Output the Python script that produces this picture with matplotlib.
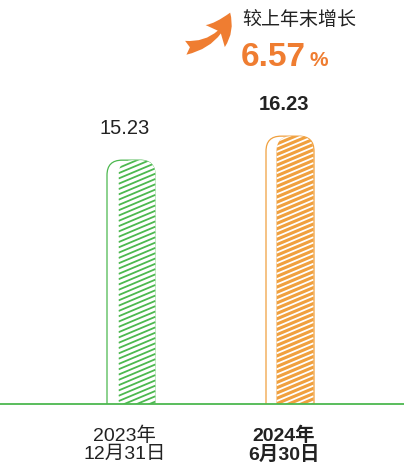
import numpy as np
import matplotlib.pyplot as plt
from matplotlib.patches import FancyBboxPatch, FancyArrowPatch

plt.rcParams['font.family'] = ['Liberation Sans', 'Noto Sans CJK SC', 'DejaVu Sans']

# data
dates = ["2023年\n12月31日", "2024年\n6月30日"]
values = [15.23, 16.23]
growth_pct = "6.57"
growth_label = "较上年末增长"

green = '#4cb84f'
orange_bar = '#f0a03e'
orange_txt = '#ef7d31'

W, H, DPI = 404, 466, 100
fig = plt.figure(figsize=(W / DPI, H / DPI), dpi=DPI)

base_px = 404  # baseline from top, pixels
ax = fig.add_axes([0, (H - base_px) / H, 1, base_px / H])

# scales: x units -> pixels, y units -> pixels
x0_px, x_unit_px = 125, 159
y_unit_px = 24
ymin = 5.07
ax.set_xlim(-x0_px / x_unit_px, (W - x0_px) / x_unit_px)
ax.set_ylim(ymin, ymin + base_px / y_unit_px)

radius_px = 15
rx = radius_px / x_unit_px
aspect = x_unit_px / y_unit_px


def rounded_bar(xc, width, top, **kw):
    # extend below the baseline so the lower corners are clipped away
    bottom = ymin - 2
    p = FancyBboxPatch((xc - width / 2, bottom), width, top - bottom,
                       boxstyle=f"round,pad=0,rounding_size={rx}",
                       mutation_aspect=aspect, **kw)
    ax.add_patch(p)
    return p


def hatch_lines(patch, xc, width, top, color, spacing_px=5.3, slope=0.42, lw=1.3):
    # shallow diagonal stripes clipped to the rounded bar
    xl, xr = xc - width / 2, xc + width / 2
    rise = (xr - xl) * x_unit_px * slope / y_unit_px
    step = spacing_px / y_unit_px
    for y0 in np.arange(ymin - rise - 1, top + 1, step):
        ln, = ax.plot([xl, xr], [y0, y0 + rise], color=color, lw=lw,
                      solid_capstyle='butt')
        ln.set_clip_path(patch)


outer_w = 48 / x_unit_px
inner_w = 37 / x_unit_px
colors = [green, orange_bar]
for i, (v, c) in enumerate(zip(values, colors)):
    # outline bar
    rounded_bar(i + 6 / x_unit_px, outer_w, v, facecolor='white',
                edgecolor=c, linewidth=0.9)
    # striped inner bar
    if i == 0:
        xc = i + 12 / x_unit_px
        p = rounded_bar(xc, inner_w, v, facecolor='white', linewidth=0)
        hatch_lines(p, xc, inner_w, v, c)
    else:
        xc = i + 11 / x_unit_px
        p = rounded_bar(xc, inner_w, v, facecolor=c, linewidth=0)
        hatch_lines(p, xc, inner_w, v, 'white')
    ax.annotate(f"{v:.2f}", (i, v), xytext=(0, 23), textcoords='offset points',
                ha='center', va='center', fontsize=14.5,
                fontweight='bold' if i == 1 else 'normal', color='#222222')

for s in ['top', 'left', 'right']:
    ax.spines[s].set_visible(False)
ax.spines['bottom'].set_color(green)
ax.spines['bottom'].set_linewidth(1.3)
ax.set_yticks([])
ax.set_xticks(range(len(dates)))
ax.set_xticklabels(dates, fontsize=14, linespacing=1.1, color='#222222')
ax.tick_params(axis='x', length=0, pad=16)
ax.get_xticklabels()[1].set_fontweight('bold')

# growth header
arrow = FancyArrowPatch((183 / W, 1 - 48 / H), (231 / W, 1 - 10 / H),
                        transform=fig.transFigure,
                        connectionstyle="arc3,rad=0.35",
                        arrowstyle="fancy,head_length=1.0,head_width=1.05,tail_width=0.5",
                        mutation_scale=20, color=orange_txt, linewidth=0)
fig.patches.append(arrow)
fig.text(242 / W, 1 - 20 / H, growth_label, fontsize=13.7, color='#222222',
         ha='left', va='center')
t = fig.text(241 / W, 1 - 58 / H, growth_pct, fontsize=24, fontweight='bold',
             color=orange_txt, ha='left', va='center')
fig.canvas.draw()
bb = t.get_window_extent()
fig.text(bb.x1 / W + 3 / W, 1 - 61 / H, "%", fontsize=15, fontweight='bold',
         color=orange_txt, ha='left', va='center')

fig.savefig("out.png", dpi=DPI)
